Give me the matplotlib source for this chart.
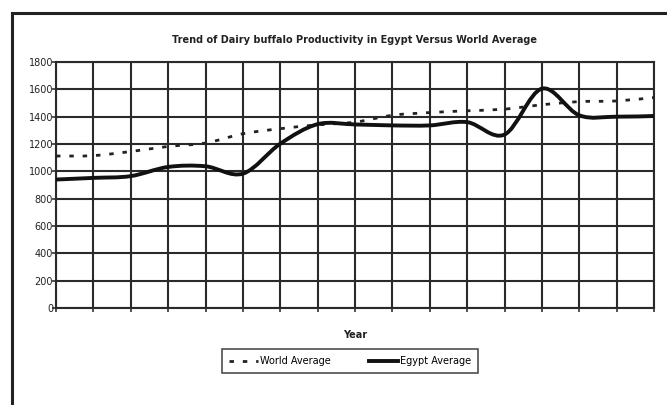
import matplotlib
matplotlib.use("Agg")
import matplotlib.pyplot as plt
from matplotlib.path import Path
from matplotlib.patches import PathPatch
from matplotlib.lines import Line2D
import numpy as np

title = "Trend of Dairy buffalo Productivity in Egypt Versus World Average"
x_label = "Year"
series_names = ["World Average", "Egypt Average"]
y_ticks = [0, 200, 400, 600, 800, 1000, 1200, 1400, 1600, 1800]
periods = list(range(17))
world_avg = [1112, 1115, 1145, 1182, 1207, 1275, 1312, 1340, 1360, 1410, 1430, 1443, 1455, 1487, 1510, 1515, 1540]
egypt_avg = [940, 952, 965, 1032, 1037, 983, 1202, 1345, 1343, 1336, 1336, 1360, 1269, 1605, 1410, 1400, 1405]


def smooth_path(xs, ys):
    pts = np.column_stack([xs, ys]).astype(float)
    n = len(pts)
    verts = [pts[0]]
    codes = [Path.MOVETO]
    for i in range(n - 1):
        p0 = pts[i - 1] if i > 0 else pts[i]
        p1 = pts[i]
        p2 = pts[i + 1]
        p3 = pts[i + 2] if i + 2 < n else pts[i + 1]
        c1 = p1 + (p2 - p0) / 6.0
        c2 = p2 - (p3 - p1) / 6.0
        verts += [c1, c2, p2]
        codes += [Path.CURVE4] * 3
    return Path(verts, codes)


fig = plt.figure(figsize=(6.67, 4.05), dpi=100)
fig.patch.set_facecolor("white")

# outer frame (top and left edges visible)
fig.add_artist(Line2D([12 / 667, 1.0], [1 - 13 / 405, 1 - 13 / 405], color="#222222", lw=2.2,
                      transform=fig.transFigure))
fig.add_artist(Line2D([12 / 667, 12 / 667], [0.0, 1 - 13 / 405], color="#222222", lw=2.2,
                      transform=fig.transFigure))

ax = fig.add_axes([56 / 667, 1 - 308 / 405, (654 - 56) / 667, (308 - 62) / 405])
ax.set_xlim(periods[0], periods[-1])
ax.set_ylim(0, 1800)
ax.set_xticks(periods)
ax.set_xticklabels([""] * len(periods))
ax.set_yticks(y_ticks)
ax.set_yticklabels([str(v) for v in y_ticks], fontsize=7, color="#222222")
ax.tick_params(axis="y", length=3, width=1.2, pad=-1, color="#333333")
ax.tick_params(axis="x", length=3, width=1.2, direction="out", color="#333333")
ax.grid(True, color="#2a2a2a", linewidth=1.5)
ax.set_axisbelow(True)
for s in ax.spines.values():
    s.set_color("#2a2a2a")
    s.set_linewidth(1.5)

ax.add_patch(PathPatch(smooth_path(periods, world_avg), fill=False, edgecolor="#222222",
                       lw=2.0, linestyle=(0, (1.6, 3.2)), zorder=3))
ax.add_patch(PathPatch(smooth_path(periods, egypt_avg), fill=False, edgecolor="#111111",
                       lw=2.8, zorder=4, capstyle="round", joinstyle="round"))

fig.text(355 / 667, 1 - 40 / 405, title, ha="center", va="center", fontsize=7, fontweight="bold",
         color="#222222")
fig.text(355 / 667, 1 - 335 / 405, x_label, ha="center", va="center", fontsize=7, fontweight="bold",
         color="#222222")

handles = [Line2D([], [], color="#222222", lw=2.0, linestyle=(0, (1.6, 3.2))),
           Line2D([], [], color="#111111", lw=2.8)]
leg = fig.legend(handles, series_names, loc="center", bbox_to_anchor=(350 / 667, 1 - 361 / 405),
                 ncol=2, fontsize=7, frameon=True, fancybox=False, handlelength=3,
                 columnspacing=4, borderpad=0.7, handletextpad=0.2)
leg.get_frame().set_edgecolor("#222222")
leg.get_frame().set_linewidth(1.2)

fig.savefig("out.png", dpi=100, facecolor="white")
